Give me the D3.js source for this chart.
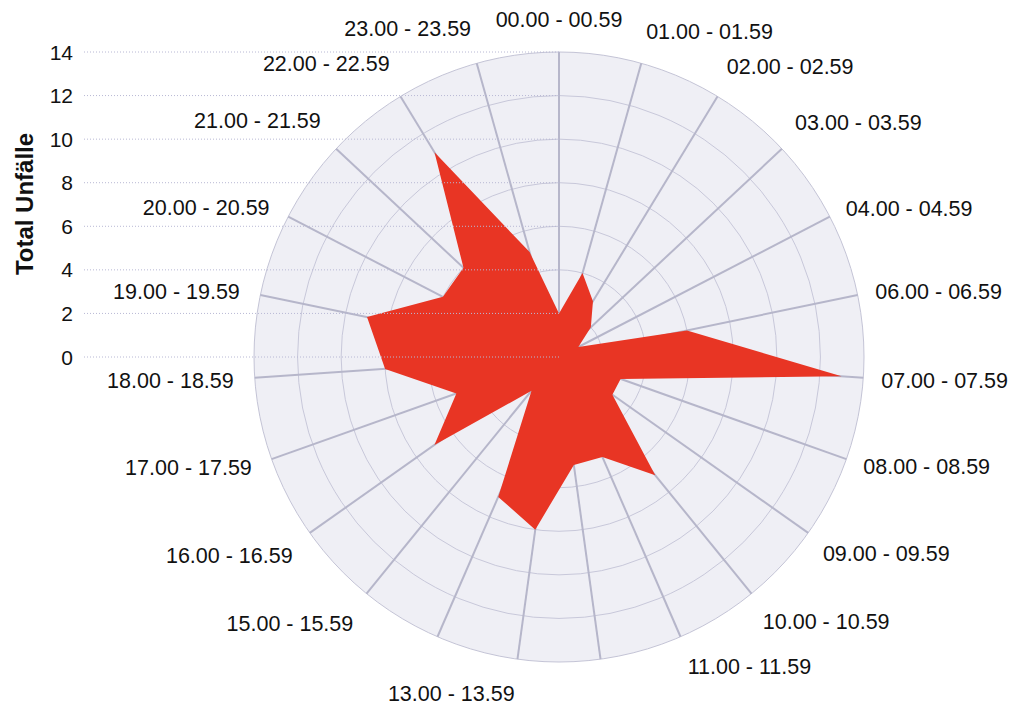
<!DOCTYPE html>
<html>
<head>
<meta charset="utf-8">
<script src="https://cdn.jsdelivr.net/npm/d3@7"></script>
<style>
  body { margin: 0; background: #fff; }
  text { font-family: "Liberation Sans", Arial, sans-serif; fill: #111; }
</style>
</head>
<body>
<script>
// Data: accidents per hour of day (05.00 - 05.59 has no entry)
const hours = ["00.00 - 00.59", "01.00 - 01.59", "02.00 - 02.59", "03.00 - 03.59", "04.00 - 04.59",
    "06.00 - 06.59", "07.00 - 07.59", "08.00 - 08.59", "09.00 - 09.59", "10.00 - 10.59",
    "11.00 - 11.59", "12.00 - 12.59", "13.00 - 13.59", "14.00 - 14.59", "15.00 - 15.59",
    "16.00 - 16.59", "17.00 - 17.59", "18.00 - 18.59", "19.00 - 19.59", "20.00 - 20.59",
    "21.00 - 21.59", "22.00 - 22.59", "23.00 - 23.59"];
const accidents = [2, 4, 3, 2, 1, 6, 13, 3, 3, 7, 5, 5, 8, 7, 2, 7, 5, 8, 9, 6, 6, 11, 5];
const yTicks = [0, 2, 4, 6, 8, 10, 12, 14];
// labels the original chart drops because they would collide
const hiddenLabels = ["12.00 - 12.59", "14.00 - 14.59"];

const width = 1015, height = 705;
const cx = 559, cy = 357, radius = 305;

const svg = d3.select("body").append("svg")
    .attr("width", width)
    .attr("height", height);

// scales
const angle = d3.scaleBand()
    .domain(hours)
    .range([0, 2 * Math.PI])
    .align(0);
const r = d3.scaleLinear()
    .domain([0, 14])
    .range([0, radius]);

const g = svg.append("g").attr("transform", `translate(${cx},${cy})`);

// pane background
g.append("circle")
    .attr("r", radius)
    .attr("fill", "#efeff5")
    .attr("stroke", "#c4c4d6")
    .attr("stroke-width", 1);

// circular grid
g.selectAll("circle.grid")
    .data(yTicks.filter(d => d > 0 && d < 14))
    .enter().append("circle")
    .attr("class", "grid")
    .attr("r", d => r(d))
    .attr("fill", "none")
    .attr("stroke", "#c8c8da")
    .attr("stroke-width", 1);

// spokes
g.selectAll("line.spoke")
    .data(hours)
    .enter().append("line")
    .attr("class", "spoke")
    .attr("x1", 0).attr("y1", 0)
    .attr("x2", d => radius * Math.sin(angle(d)))
    .attr("y2", d => -radius * Math.cos(angle(d)))
    .attr("stroke", "#b6b6ca")
    .attr("stroke-width", 2);

// y axis: labels and dotted lines
const yAxis = svg.append("g");
yAxis.selectAll("line")
    .data(yTicks)
    .enter().append("line")
    .attr("x1", 84).attr("x2", cx)
    .attr("y1", d => cy - r(d)).attr("y2", d => cy - r(d))
    .attr("stroke", "#b8b8d4")
    .attr("stroke-width", 1)
    .attr("stroke-dasharray", "1,2");
yAxis.selectAll("text")
    .data(yTicks)
    .enter().append("text")
    .attr("x", 73)
    .attr("y", d => cy - r(d))
    .attr("text-anchor", "end")
    .attr("dominant-baseline", "central")
    .style("font-size", "21px")
    .text(d => d);

svg.append("text")
    .attr("transform", "translate(24,204) rotate(-90)")
    .attr("text-anchor", "middle")
    .attr("dominant-baseline", "central")
    .style("font-size", "24px")
    .style("font-weight", "bold")
    .text("Total Unfälle");

// the area
const line = d3.lineRadial()
    .angle((d, i) => angle(hours[i]))
    .radius(d => r(d))
    .curve(d3.curveLinearClosed);
g.append("path")
    .datum(accidents)
    .attr("d", line)
    .attr("fill", "#e83524");

// vertical nudge of a category label, by how far up or down it sits
function labelShift(c) {
    if (c > 0.6) return -14;
    if (c > 0) return 1;
    if (c > -0.4) return 2;
    if (c > -0.65) return 11;
    return 14;
}

// category labels
g.selectAll("text.cat")
    .data(hours.filter(d => !hiddenLabels.includes(d)))
    .enter().append("text")
    .attr("class", "cat")
    .each(function(d) {
        const a = angle(d);
        const s = Math.sin(a), c = Math.cos(a);
        const anchor = Math.abs(s) < 0.01 && c > 0 ? "middle" : (s > 0 ? "start" : "end");
        const dist = radius + (anchor === "end" ? 21 : 18);
        d3.select(this)
            .attr("x", dist * s)
            .attr("y", -dist * c + labelShift(c))
            .attr("text-anchor", anchor);
    })
    .attr("dominant-baseline", "central")
    .style("font-size", "21.5px")
    .text(d => d);
</script>
</body>
</html>
